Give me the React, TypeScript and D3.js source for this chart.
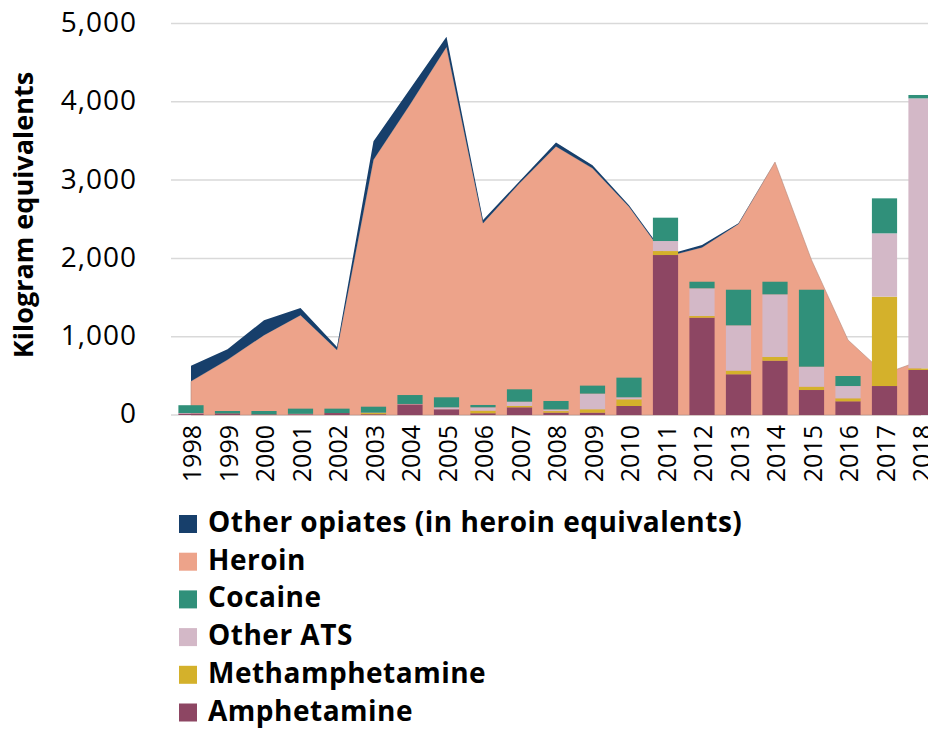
import React from "react";
import * as d3 from "d3";

const years = ["1998", "1999", "2000", "2001", "2002", "2003", "2004", "2005", "2006", "2007", "2008", "2009", "2010", "2011", "2012", "2013", "2014", "2015", "2016", "2017", "2018"];

// area series (kg)
const heroin = [430, 705, 1020, 1275, 830, 3260, 3965, 4700, 2450, 2960, 3430, 3150, 2660, 2020, 2140, 2440, 3230, 1980, 958, 528, 695];
const otherOpiates = [200, 135, 190, 90, 40, 235, 200, 130, 40, 25, 50, 40, 20, 20, 30, 10, 0, 0, 0, 0, 0];

// bar series (kg), stacked bottom to top
const amphetamine = [20, 20, 8, 10, 25, 10, 136, 73, 22, 98, 30, 30, 115, 2043, 1243, 520, 694, 319, 175, 370, 575];
const methamphetamine = [0, 0, 0, 0, 0, 15, 0, 0, 33, 17, 20, 43, 85, 51, 21, 46, 47, 42, 38, 1141, 21];
const otherATS = [5, 0, 0, 5, 0, 5, 5, 25, 43, 55, 21, 200, 26, 128, 354, 579, 800, 256, 157, 809, 3448];
const cocaine = [100, 31, 43, 66, 56, 76, 114, 128, 30, 158, 108, 102, 251, 298, 84, 455, 161, 983, 128, 447, 43];

const yTicks = [0, 1000, 2000, 3000, 4000, 5000];

const legend = [
  { name: "Other opiates (in heroin equivalents)", color: "#173f6b" },
  { name: "Heroin", color: "#eda38a" },
  { name: "Cocaine", color: "#30907a" },
  { name: "Other ATS", color: "#d3b8c7" },
  { name: "Methamphetamine", color: "#d4b12b" },
  { name: "Amphetamine", color: "#8d4663" },
];

const barSeries = [
  { values: amphetamine, color: "#8d4663" },
  { values: methamphetamine, color: "#d4b12b" },
  { values: otherATS, color: "#d3b8c7" },
  { values: cocaine, color: "#30907a" },
];

const font = "'Open Sans', 'Noto Sans', sans-serif";

export default function App() {
  const width = 928;
  const height = 729;

  const x = d3
    .scaleBand<string>()
    .domain(years)
    .range([172.75, 172.75 + 36.5 * years.length])
    .paddingInner(0.31)
    .paddingOuter(0.155);
  const y = d3.scaleLinear([0, 5000], [415, 23.5]);
  const cx = (yr: string) => (x(yr) as number) + x.bandwidth() / 2;

  const heroinArea = d3
    .area<number>()
    .x((_, i) => cx(years[i]))
    .y0(y(0))
    .y1((d) => y(d));
  const opiatesArea = d3
    .area<number>()
    .x((_, i) => cx(years[i]))
    .y0((_, i) => y(heroin[i]))
    .y1((d, i) => y(heroin[i] + d));

  const rects: React.ReactElement[] = [];
  years.forEach((yr, i) => {
    let base = 0;
    barSeries.forEach((s, j) => {
      const v = s.values[i];
      if (v > 0) {
        rects.push(
          <rect
            key={yr + j}
            x={x(yr)}
            width={x.bandwidth()}
            y={y(base + v)}
            height={y(base) - y(base + v)}
            fill={s.color}
          />
        );
      }
      base += v;
    });
  });

  return (
    <svg
      width={width}
      height={height}
      style={{ position: "absolute", left: 0, top: 0, background: "#fff" }}
    >
      <g stroke="#d9d9d9" strokeWidth={1.5}>
        {yTicks.map((t) => (
          <line key={t} x1={171} x2={width} y1={y(t)} y2={y(t)} />
        ))}
      </g>
      <g fontFamily={font} fontSize={28} textAnchor="end" fill="#000" letterSpacing={1}>
        {yTicks.map((t) => (
          <text key={t} x={137} y={y(t)} dy="0.3em">
            {d3.format(",")(t)}
          </text>
        ))}
      </g>
      <text
        transform="translate(33,215) rotate(-90)"
        textAnchor="middle"
        fontFamily={font}
        fontWeight={700}
        fontSize={27}
      >
        Kilogram equivalents
      </text>

      <path d={heroinArea(heroin) ?? ""} fill="#eda38a" stroke="#b58a7c" strokeWidth={0.6} />
      <path d={opiatesArea(otherOpiates) ?? ""} fill="#173f6b" />

      <g>{rects}</g>

      <g fontFamily={font} fontSize={25} textAnchor="end">
        {years.map((yr) => (
          <text
            key={yr}
            transform={`translate(${cx(yr)},425) rotate(-90)`}
            dominantBaseline="central"
          >
            {yr}
          </text>
        ))}
      </g>

      <g fontFamily={font} fontWeight={700} fontSize={28} letterSpacing={0.5}>
        {legend.map((l, i) => (
          <g key={l.name} transform={`translate(179,${515 + i * 37.7})`}>
            <rect width={18} height={18} fill={l.color} />
            <text x={29} y={17}>
              {l.name}
            </text>
          </g>
        ))}
      </g>
    </svg>
  );
}
